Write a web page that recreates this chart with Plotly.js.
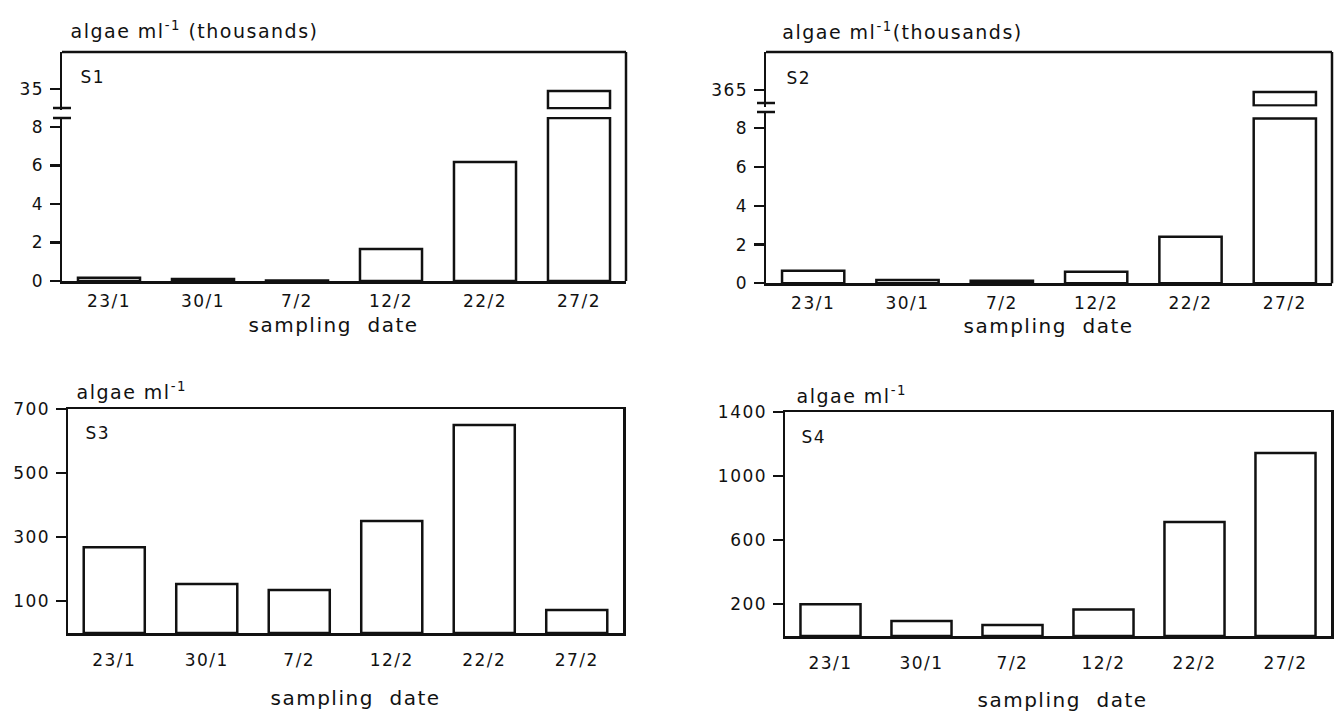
<!DOCTYPE html>
<html>
<head>
<meta charset="utf-8">
<script src="https://cdn.plot.ly/plotly-3.0.1.min.js"></script>
<style>
html,body{margin:0;padding:0;background:#fff;}
#chart{width:1337px;height:713px;}
#chart svg text{letter-spacing:1.5px;}
</style>
</head>
<body>
<div id="chart"></div>
<script>
// ---- data ----
const dates = ["23/1", "30/1", "7/2", "12/2", "22/2", "27/2"];
const s1Thousands = [0.17, 0.10, 0.02, 1.66, 6.18, 34.9];
const s2Thousands = [0.65, 0.17, 0.13, 0.60, 2.40, 364.9];
const s3Values = [268, 153, 134, 350, 650, 72];
const s4Values = [199, 94, 69, 165, 712, 1143];
const s1Ticks = [0, 2, 4, 6, 8];
const s1UpperTick = [35];
const s2Ticks = [0, 2, 4, 6, 8];
const s2UpperTick = [365];
const s3Ticks = [100, 300, 500, 700];
const s4Ticks = [200, 600, 1000, 1400];

// ---- layout helpers (pixel -> paper) ----
const W = 1337, H = 713;
const px = x => x / W;
const py = y => 1 - y / H;
const FONT = "DejaVu Sans";
const INK = "#111";
const LW = 2.5;

// axis-break geometry (pixels)
const p1 = {x0: 62, x1: 626, zero: 281, pxPerUnit: 19.25, lowTop: 117, cap: 8.47,
            upBottom: 109.5, top: 52, upTickPx: 89, upBase: 34.0, breaks: [108, 118]};
const p2 = {x0: 766, x1: 1332, zero: 283.3, pxPerUnit: 19.375, lowTop: 112, cap: 8.5,
            upBottom: 106.5, top: 52, upTickPx: 90, upBase: 364.2, breaks: [103, 112]};
const p3 = {x0: 68, x1: 623, bottom: 633, top: 409};
const p4 = {x0: 785, x1: 1331, bottom: 636, top: 412};

function lowRange(p) { return [0, (p.zero - p.lowTop) / p.pxPerUnit]; }
function upRange(p, tick) {
  return [tick - (p.upBottom - p.upTickPx) / p.pxPerUnit, tick + (p.upTickPx - p.top) / p.pxPerUnit];
}

const barStyle = {type: "bar", marker: {color: "#fff", line: {color: INK, width: LW}}, hoverinfo: "x+y", showlegend: false};

function brokenTraces(values, p, xa, yLow, yUp) {
  return [
    Object.assign({}, barStyle, {x: dates, y: values.map(v => Math.min(v, p.cap)), xaxis: xa, yaxis: yLow}),
    Object.assign({}, barStyle, {x: dates, y: values.map(v => v > p.cap ? v - p.upBase : null),
                                 base: p.upBase, xaxis: xa, yaxis: yUp})
  ];
}

const traces = [
  ...brokenTraces(s1Thousands, p1, "x", "y", "y5"),
  ...brokenTraces(s2Thousands, p2, "x2", "y2", "y6"),
  Object.assign({}, barStyle, {x: dates, y: s3Values, xaxis: "x3", yaxis: "y3"}),
  Object.assign({}, barStyle, {x: dates, y: s4Values, xaxis: "x4", yaxis: "y4"})
];

const tickFont = {family: FONT, size: 17, color: INK};

function xAxis(p, anchor, standoff, mirror) {
  return {domain: [px(p.x0), px(p.x1)], anchor: anchor, type: "category",
          showline: true, linecolor: INK, linewidth: LW, mirror: mirror,
          ticks: "", showgrid: false, zeroline: false, tickfont: tickFont,
          ticklabelstandoff: standoff, fixedrange: true};
}
function yAxis(dom, range, tickvals, anchor, extra) {
  return Object.assign({domain: dom, range: range, anchor: anchor, tickmode: "array",
          tickvals: tickvals, ticktext: tickvals.map(String),
          showline: true, linecolor: INK, linewidth: LW,
          ticks: "outside", ticklen: 10, tickwidth: 2.2, tickcolor: INK,
          showgrid: false, zeroline: false, tickfont: tickFont, ticklabelstandoff: 2,
          fixedrange: true}, extra || {});
}

const shapes = [];
function line(x0, y0, x1, y1) {
  shapes.push({type: "line", xref: "paper", yref: "paper", x0: px(x0), y0: py(y0), x1: px(x1), y1: py(y1),
               line: {color: INK, width: LW}});
}
[p1, p2].forEach(p => {
  line(p.x0, p.top, p.x1, p.top);      // top frame
  line(p.x1, p.top, p.x1, p.zero);     // right frame
  p.breaks.forEach(b => line(p.x0 - 9, b, p.x0 + 9, b));  // axis break marks
});

function ann(text, x, y, size) {
  return {text: text, x: px(x), y: py(y), xref: "paper", yref: "paper", showarrow: false,
          xanchor: "center", yanchor: "middle", font: {family: FONT, size: size, color: INK}};
}

const xTitle = "sampling\u00A0\u00A0date";

const layout = {
  width: W, height: H,
  margin: {l: 0, r: 0, t: 0, b: 0},
  paper_bgcolor: "#fff", plot_bgcolor: "rgba(0,0,0,0)",
  bargap: 0.34,
  font: {family: FONT, color: INK},
  xaxis: xAxis(p1, "y", 3, false),
  xaxis2: xAxis(p2, "y2", 3, false),
  xaxis3: xAxis(p3, "y3", 10, true),
  xaxis4: xAxis(p4, "y4", 10, true),
  yaxis: yAxis([py(p1.zero), py(p1.lowTop)], lowRange(p1), s1Ticks, "x"),
  yaxis5: yAxis([py(p1.upBottom), py(p1.top)], upRange(p1, s1UpperTick[0]), s1UpperTick, "x"),
  yaxis2: yAxis([py(p2.zero), py(p2.lowTop)], lowRange(p2), s2Ticks, "x2"),
  yaxis6: yAxis([py(p2.upBottom), py(p2.top)], upRange(p2, s2UpperTick[0]), s2UpperTick, "x2"),
  yaxis3: yAxis([py(p3.bottom), py(p3.top)], [0, 700], s3Ticks, "x3", {mirror: true}),
  yaxis4: yAxis([py(p4.bottom), py(p4.top)], [0, 1400], s4Ticks, "x4", {mirror: true}),
  shapes: shapes,
  annotations: [
    ann("algae ml<sup>-1</sup> (thousands)", 194, 30, 19),
    ann("algae ml<sup>-1</sup>(thousands)", 902, 31, 19),
    ann("algae ml<sup>-1</sup>", 131, 391, 19),
    ann("algae ml<sup>-1</sup>", 851, 395, 19),
    ann("S1", 93, 77, 17),
    ann("S2", 799, 78, 17),
    ann("S3", 98, 433, 17),
    ann("S4", 814, 437, 17),
    ann(xTitle, 333, 325, 20),
    ann(xTitle, 1048, 326, 20),
    ann(xTitle, 355, 698, 20),
    ann(xTitle, 1062, 700, 20)
  ]
};

Plotly.newPlot("chart", traces, layout, {displayModeBar: false, staticPlot: true});
</script>
</body>
</html>
